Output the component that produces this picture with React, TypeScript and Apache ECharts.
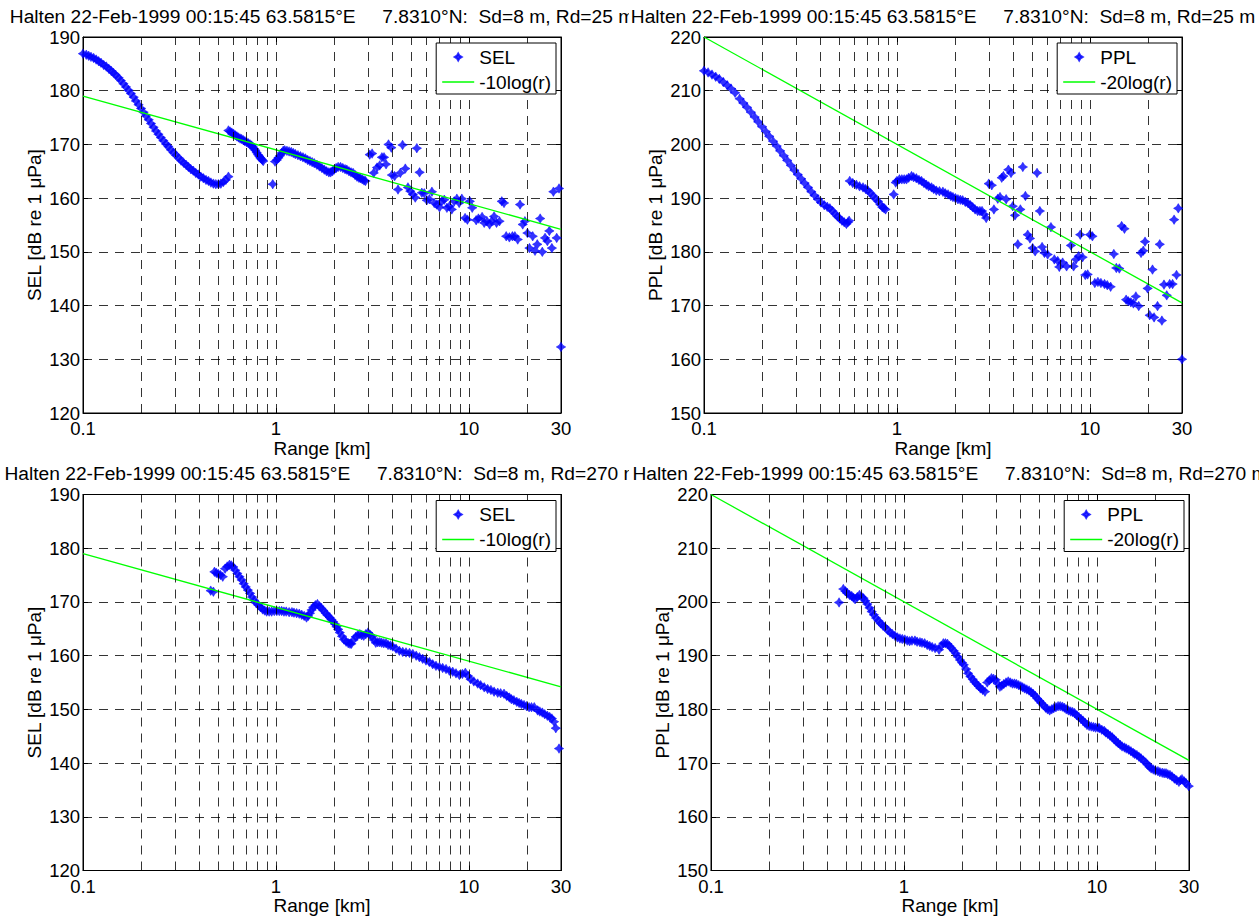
import React, { useEffect, useRef } from "react";
import * as echarts from "echarts";

const FONT = '"Liberation Sans", Arial, Helvetica, sans-serif';

// ---- text ----
const titleRd25 = "Halten 22-Feb-1999 00:15:45 63.5815°E     7.8310°N:  Sd=8 m, Rd=25 m";
const titleRd270 = "Halten 22-Feb-1999 00:15:45 63.5815°E     7.8310°N:  Sd=8 m, Rd=270 m";
const xName = "Range [km]";

// ---- axes ----
const xMin = 0.1;
const xMax = 30;
const xGridValues = [0.2, 0.3, 0.4, 0.5, 0.6, 0.7, 0.8, 0.9, 1, 2, 3, 4, 5, 6, 7, 8, 9, 10, 20];
const selRange = [120, 190];
const pplRange = [150, 220];

// ---- reference lines (end points) ----
const selRef: [number, number][] = [[0.1, 179.0], [30, 154.2]];
const pplRef: [number, number][] = [[0.1, 220.0], [30, 170.5]];

// ---- SEL, Rd = 25 m ----
const sel25: [number, number][] = [
  [0.1, 186.9], [0.104, 186.7], [0.107, 186.5], [0.11, 186.3], [0.1135, 186.1], [0.117, 185.8], [0.1205, 185.5],
  [0.124, 185.2], [0.128, 184.8], [0.132, 184.5], [0.136, 184.1], [0.14, 183.7], [0.144, 183.3], [0.148, 182.9],
  [0.153, 182.4], [0.157, 181.9], [0.162, 181.3], [0.167, 180.7], [0.172, 180.1], [0.177, 179.5], [0.183, 178.8],
  [0.188, 178.1], [0.194, 177.4], [0.2, 176.7], [0.206, 176.0], [0.212, 175.3], [0.219, 174.6], [0.225, 173.9],
  [0.232, 173.2], [0.239, 172.5], [0.246, 171.9], [0.253, 171.3], [0.261, 170.7], [0.269, 170.1], [0.277, 169.6],
  [0.285, 169.0], [0.294, 168.5], [0.303, 168.0], [0.313, 167.5], [0.322, 167.0], [0.332, 166.6], [0.342, 166.2],
  [0.352, 165.8], [0.362, 165.4], [0.373, 165.1], [0.384, 164.7], [0.396, 164.4], [0.408, 164.0], [0.421, 163.7],
  [0.434, 163.4], [0.447, 163.2], [0.46, 162.9], [0.474, 162.7], [0.488, 162.6], [0.503, 162.6], [0.518, 162.7],
  [0.534, 163.0], [0.55, 163.4], [0.567, 164.0],
  [0.567, 172.6], [0.578, 172.4], [0.59, 172.2], [0.602, 172.0], [0.615, 171.7], [0.627, 171.5], [0.64, 171.3],
  [0.652, 171.1], [0.664, 171.0], [0.677, 170.8], [0.69, 170.6], [0.705, 170.4], [0.72, 170.2], [0.734, 170.0],
  [0.748, 169.8], [0.76, 169.5], [0.77, 169.2], [0.782, 168.9], [0.794, 168.5], [0.807, 168.1], [0.82, 167.8],
  [0.83, 167.5], [0.84, 167.3], [0.85, 167.1], [0.859, 166.9],
  [0.962, 162.6],
  [0.989, 166.8], [1.01, 167.1], [1.03, 167.5], [1.05, 167.9], [1.07, 168.4], [1.09, 168.8], [1.11, 168.9],
  [1.14, 168.8], [1.17, 168.7], [1.2, 168.6], [1.23, 168.4], [1.26, 168.2], [1.3, 168.0], [1.34, 167.8],
  [1.38, 167.6], [1.42, 167.4], [1.46, 167.1], [1.5, 166.9], [1.54, 166.7], [1.58, 166.5], [1.63, 166.2],
  [1.68, 165.9], [1.73, 165.6], [1.78, 165.3], [1.83, 165.0], [1.88, 164.8], [1.92, 164.8], [1.96, 165.0],
  [2.0, 165.3], [2.05, 165.6], [2.1, 165.8], [2.16, 165.8], [2.22, 165.6], [2.28, 165.4], [2.33, 165.3],
  [2.39, 165.0], [2.45, 164.8], [2.51, 164.7], [2.57, 164.3], [2.63, 164.0], [2.69, 163.8], [2.74, 163.7],
  [2.8, 163.5], [2.86, 163.3], [2.91, 163.2],
  [3.06, 168.1], [3.15, 168.3], [3.21, 164.7], [3.34, 165.7], [3.45, 166.1], [3.54, 167.6], [3.63, 167.6],
  [3.72, 166.3], [3.83, 170.0], [3.96, 169.4], [3.99, 164.3], [4.12, 164.1], [4.29, 161.6], [4.41, 164.7],
  [4.53, 169.9], [4.68, 165.5], [4.83, 162.0], [4.97, 161.3], [5.12, 160.7], [5.27, 160.1], [5.37, 169.3],
  [5.55, 164.8], [5.7, 161.0], [5.87, 160.9], [6.05, 159.6], [6.24, 159.8], [6.43, 161.2], [6.61, 159.1],
  [6.82, 158.8], [7.04, 158.3], [7.24, 159.4], [7.45, 159.7], [7.69, 158.2], [7.93, 158.5], [8.15, 157.9],
  [8.39, 159.4], [8.66, 159.9], [8.9, 159.1], [9.19, 159.9], [9.55, 156.3], [9.82, 156.0], [10.1, 159.4],
  [10.4, 158.2], [10.9, 155.9], [11.2, 156.2], [11.7, 156.5], [12.0, 155.4], [12.4, 155.7], [12.8, 155.1],
  [13.1, 155.7], [13.5, 156.6], [13.9, 155.4], [14.4, 155.7], [14.8, 159.4], [15.2, 159.1], [15.6, 152.9],
  [16.2, 152.7], [16.8, 152.9], [17.3, 152.9], [17.9, 152.3], [18.4, 158.8], [19.0, 155.1], [19.5, 155.7],
  [20.1, 153.5], [20.6, 150.7], [21.4, 152.9], [22.0, 150.2], [22.6, 151.4], [23.4, 156.2], [24.0, 150.0],
  [24.8, 152.6], [25.5, 152.0], [26.1, 153.9], [26.9, 150.7], [27.4, 161.2], [28.5, 152.6], [29.3, 161.8],
  [30, 132.3],
];

// ---- PPL, Rd = 25 m ----
const ppl25: [number, number][] = [
  [0.1, 213.7], [0.105, 213.4], [0.11, 213.0], [0.115, 212.6], [0.12, 212.2], [0.126, 211.6], [0.132, 211.0],
  [0.138, 210.4], [0.145, 209.6], [0.153, 208.5], [0.16, 207.7], [0.167, 206.9], [0.175, 206.0], [0.183, 205.1],
  [0.191, 204.2], [0.2, 203.3], [0.209, 202.4], [0.218, 201.5], [0.228, 200.6], [0.238, 199.7], [0.248, 198.8],
  [0.259, 197.9], [0.27, 197.0], [0.282, 196.1], [0.294, 195.2], [0.306, 194.4], [0.319, 193.6], [0.332, 192.8],
  [0.346, 192.0], [0.36, 191.2], [0.374, 190.5], [0.389, 189.8], [0.404, 189.2], [0.42, 188.7], [0.435, 188.4],
  [0.449, 188.1], [0.463, 187.6], [0.477, 187.1], [0.491, 186.6], [0.505, 186.2], [0.519, 185.8], [0.533, 185.5],
  [0.547, 185.2], [0.557, 185.5], [0.565, 185.8],
  [0.569, 193.2], [0.59, 192.8], [0.616, 192.5], [0.64, 192.2], [0.667, 192.0], [0.688, 191.7], [0.708, 191.4],
  [0.73, 190.9], [0.752, 190.4], [0.775, 189.9], [0.798, 189.4], [0.82, 188.8], [0.84, 188.3], [0.857, 188.1],
  [0.873, 187.9],
  [0.962, 190.7],
  [0.985, 192.9], [1.0, 193.2], [1.03, 193.5], [1.06, 193.5], [1.09, 193.5], [1.12, 193.5], [1.15, 193.8],
  [1.19, 194.1], [1.22, 193.9], [1.26, 193.7], [1.3, 193.4], [1.34, 193.2], [1.38, 192.8], [1.42, 192.5],
  [1.46, 192.2], [1.51, 192.0], [1.55, 191.7], [1.6, 191.4], [1.66, 191.3], [1.73, 191.2], [1.78, 190.9],
  [1.84, 190.7], [1.9, 190.4], [1.95, 190.2], [2.01, 190.0], [2.07, 189.8], [2.13, 189.7], [2.19, 189.6],
  [2.26, 189.3], [2.33, 189.1], [2.4, 188.7], [2.47, 188.3], [2.54, 187.9], [2.62, 187.6], [2.69, 187.6],
  [2.76, 187.6], [2.83, 187.0], [2.9, 186.3],
  [2.99, 192.7], [3.1, 192.4], [3.18, 187.9], [3.33, 189.9], [3.42, 190.2], [3.49, 193.8], [3.56, 194.1],
  [3.68, 189.8], [3.78, 195.3], [3.9, 194.7], [3.98, 188.5], [4.09, 186.8], [4.23, 181.4], [4.36, 187.9],
  [4.49, 195.8], [4.63, 190.4], [4.76, 183.2], [4.89, 182.5], [5.05, 180.7], [5.2, 180.1], [5.32, 194.7],
  [5.5, 187.6], [5.65, 180.9], [5.81, 179.8], [6.04, 179.5], [6.28, 184.6], [6.54, 178.6], [6.81, 178.3],
  [6.94, 177.2], [7.22, 178.0], [7.57, 177.3], [7.97, 181.2], [8.23, 177.3], [8.47, 178.6], [8.74, 179.2],
  [8.91, 183.2], [9.16, 179.0], [9.46, 175.7], [9.73, 175.8], [10.0, 183.2], [10.3, 182.9], [10.6, 174.2],
  [11.0, 174.4], [11.4, 174.2], [11.9, 174.0], [12.3, 173.8], [12.8, 173.5], [13.3, 179.6], [13.7, 177.0],
  [14.2, 176.9], [14.6, 184.8], [15.1, 184.3], [15.4, 171.1], [15.8, 170.8], [16.3, 170.6], [16.8, 170.4],
  [17.3, 171.7], [17.9, 169.9], [18.4, 179.8], [18.9, 180.2], [19.3, 181.9], [19.9, 173.2], [20.4, 168.2],
  [21.1, 176.7], [21.5, 167.8], [22.4, 169.9], [23.0, 181.4], [23.6, 167.2], [24.2, 173.9], [25.0, 171.9],
  [25.9, 174.0], [26.8, 174.0], [27.3, 186.0], [28.1, 175.7], [28.7, 188.1], [30, 160.0],
];

// ---- SEL, Rd = 270 m ----
const sel270: [number, number][] = [
  [0.459, 172.1], [0.474, 171.9], [0.48, 175.6], [0.491, 175.4], [0.503, 175.2], [0.516, 175.0], [0.53, 174.7],
  [0.545, 176.2], [0.559, 176.6], [0.574, 176.9], [0.587, 176.8], [0.601, 176.5], [0.616, 175.9], [0.631, 175.3],
  [0.647, 174.7], [0.664, 174.1], [0.68, 173.4], [0.697, 172.8], [0.715, 172.2], [0.734, 171.6], [0.752, 170.9],
  [0.77, 170.3], [0.79, 169.8], [0.811, 169.4], [0.832, 169.0], [0.853, 168.6], [0.874, 168.4], [0.895, 168.2],
  [0.922, 168.2], [0.95, 168.2], [0.98, 168.3], [1.01, 168.3], [1.04, 168.3], [1.07, 168.3], [1.1, 168.2],
  [1.13, 168.2], [1.17, 168.1], [1.21, 168.1], [1.24, 168.0], [1.28, 167.9], [1.32, 167.8], [1.36, 167.6],
  [1.4, 167.4], [1.44, 167.1], [1.47, 167.4], [1.5, 167.9], [1.53, 168.5], [1.56, 169.0], [1.6, 169.4],
  [1.64, 169.6], [1.68, 169.2], [1.72, 168.8], [1.76, 168.4], [1.81, 167.9], [1.85, 167.5], [1.9, 167.1],
  [1.94, 166.7], [1.98, 166.3], [2.02, 165.9], [2.06, 165.4], [2.1, 164.9], [2.14, 164.3], [2.2, 163.6],
  [2.25, 163.0], [2.31, 162.6], [2.37, 162.3], [2.42, 162.2], [2.46, 162.2], [2.52, 162.9], [2.59, 163.5],
  [2.65, 163.8], [2.72, 164.0], [2.78, 163.8], [2.85, 163.7], [2.92, 164.0], [3.0, 164.3], [3.07, 163.9],
  [3.15, 163.5], [3.22, 162.9], [3.29, 162.4], [3.37, 162.5], [3.45, 162.5], [3.53, 162.4], [3.62, 162.3],
  [3.72, 162.3], [3.81, 162.0], [3.92, 161.9], [4.03, 161.7], [4.19, 161.3], [4.36, 160.9], [4.54, 160.7],
  [4.72, 160.6], [4.92, 160.5], [5.12, 160.3], [5.33, 160.0], [5.54, 159.7], [5.76, 159.4], [5.99, 159.1],
  [6.24, 158.8], [6.49, 158.4], [6.75, 158.1], [7.03, 157.9], [7.31, 157.7], [7.61, 157.5], [7.92, 157.2],
  [8.24, 157.0], [8.57, 156.7], [8.92, 156.4], [9.25, 156.6], [9.58, 156.8], [9.9, 156.2], [10.2, 155.6],
  [10.6, 155.2], [11.1, 154.8], [11.5, 154.5], [12.0, 154.1], [12.5, 153.8], [13.0, 153.6], [13.5, 153.3],
  [14.1, 153.1], [14.6, 153.0], [15.2, 152.9], [15.7, 152.5], [16.2, 152.2], [16.6, 151.9], [17.1, 151.7],
  [17.7, 151.4], [18.2, 151.2], [18.7, 151.0], [19.3, 150.8], [19.9, 150.6], [20.5, 150.4], [21.1, 150.4],
  [21.8, 150.4], [22.7, 149.8], [23.3, 149.6], [24.0, 149.4], [24.7, 149.1], [25.5, 148.8], [26.2, 148.6],
  [26.9, 148.3], [27.6, 147.7], [28.2, 146.5], [29.3, 142.7],
];

// ---- PPL, Rd = 270 m ----
const ppl270: [number, number][] = [
  [0.461, 199.9], [0.485, 202.4], [0.497, 202.0], [0.509, 201.6], [0.522, 201.3], [0.536, 201.1], [0.547, 200.8],
  [0.558, 200.5], [0.573, 200.9], [0.588, 201.3], [0.602, 201.0], [0.617, 200.7], [0.631, 200.2], [0.646, 199.6],
  [0.663, 198.9], [0.68, 198.2], [0.698, 197.6], [0.717, 197.0], [0.737, 196.5], [0.757, 196.0], [0.777, 195.6],
  [0.797, 195.3], [0.822, 194.8], [0.847, 194.3], [0.872, 194.0], [0.898, 193.7], [0.925, 193.4], [0.953, 193.2],
  [0.98, 193.1], [1.01, 193.0], [1.04, 192.8], [1.07, 192.7], [1.1, 192.8], [1.14, 192.8], [1.17, 192.6],
  [1.21, 192.5], [1.24, 192.4], [1.28, 192.3], [1.32, 192.0], [1.36, 191.8], [1.4, 191.6], [1.45, 191.4],
  [1.52, 191.1], [1.56, 191.8], [1.6, 192.3], [1.64, 192.3], [1.68, 192.2], [1.72, 191.8], [1.76, 191.4],
  [1.81, 190.9], [1.86, 190.4], [1.9, 189.8], [1.95, 189.2], [2.0, 188.7], [2.04, 188.3], [2.1, 187.5],
  [2.15, 186.7], [2.21, 186.1], [2.27, 185.6], [2.32, 185.1], [2.38, 184.7], [2.44, 184.3], [2.49, 183.9],
  [2.56, 183.6], [2.63, 183.3], [2.7, 185.0], [2.77, 185.4], [2.84, 185.8], [2.91, 185.7], [2.99, 185.5],
  [3.06, 184.8], [3.14, 184.2], [3.21, 184.4], [3.29, 184.7], [3.38, 185.0], [3.47, 185.2], [3.56, 185.0],
  [3.65, 184.8], [3.74, 184.8], [3.83, 184.7], [3.93, 184.5], [4.03, 184.3], [4.12, 184.1], [4.22, 183.9],
  [4.33, 183.7], [4.45, 183.5], [4.56, 183.2], [4.67, 182.9], [4.79, 182.5], [4.91, 182.0], [5.03, 181.6],
  [5.15, 181.2], [5.28, 180.8], [5.42, 180.3], [5.55, 180.0], [5.69, 179.8], [5.83, 180.0], [5.97, 180.2],
  [6.13, 180.4], [6.29, 180.6], [6.45, 180.6], [6.62, 180.5], [6.78, 180.3], [6.94, 180.0], [7.12, 179.8],
  [7.31, 179.6], [7.48, 179.5], [7.66, 179.3], [7.86, 178.9], [8.07, 178.5], [8.27, 178.2], [8.47, 177.9],
  [8.67, 177.5], [8.88, 177.1], [9.11, 176.9], [9.35, 176.8], [9.6, 176.7], [9.84, 176.6], [10.1, 176.6],
  [10.3, 176.5], [10.6, 176.2], [10.9, 176.0], [11.1, 175.7], [11.4, 175.4], [11.7, 175.1], [12.0, 174.8],
  [12.3, 174.4], [12.6, 174.0], [12.9, 173.7], [13.2, 173.4], [13.5, 173.1], [13.9, 172.9], [14.2, 172.7],
  [14.6, 172.5], [15.0, 172.2], [15.4, 171.9], [15.7, 171.7], [16.1, 171.5], [16.5, 171.2], [16.9, 170.9],
  [17.4, 170.5], [17.9, 170.1], [18.3, 169.7], [18.7, 169.3], [19.1, 169.0], [19.6, 168.8], [20.1, 168.6],
  [20.7, 168.5], [21.2, 168.3], [21.8, 168.2], [22.3, 168.1], [22.8, 168.1], [23.3, 167.9], [23.9, 167.8],
  [24.5, 167.5], [25.2, 167.1], [25.9, 166.8], [26.6, 166.5], [27.1, 166.8], [27.6, 167.0], [28.3, 166.6],
  [29.0, 166.2], [29.9, 165.7],
];

const STAR = "path://M0,-10 L3.8,-3.8 L10,0 L3.8,3.8 L0,10 L-3.8,3.8 L-10,0 L-3.8,-3.8 Z";
const LINE_ICON = "path://M0,0 L32,0 L32,1.3 L0,1.3 Z";

const W = 478;
const H = 376;

type Panel = {
  left: number; top: number; data: [number, number][]; ref: [number, number][];
  name: string; refName: string; yName: string; yRange: number[]; title: string;
};

const panels: Panel[] = [
  { left: 83, top: 37, data: sel25, ref: selRef, name: "SEL", refName: "-10log(r)", yName: "SEL [dB re 1 μPa]", yRange: selRange, title: titleRd25 },
  { left: 704, top: 37, data: ppl25, ref: pplRef, name: "PPL", refName: "-20log(r)", yName: "PPL [dB re 1 μPa]", yRange: pplRange, title: titleRd25 },
  { left: 83, top: 494.5, data: sel270, ref: selRef, name: "SEL", refName: "-10log(r)", yName: "SEL [dB re 1 μPa]", yRange: selRange, title: titleRd270 },
  { left: 711, top: 494.5, data: ppl270, ref: pplRef, name: "PPL", refName: "-20log(r)", yName: "PPL [dB re 1 μPa]", yRange: pplRange, title: titleRd270 },
];

function buildOption(): echarts.EChartsOption {
  const dash = [9, 7];
  const tickFont = { color: "#000", fontSize: 18.5, fontFamily: FONT };
  const nameFont = { color: "#000", fontSize: 19, fontFamily: FONT };
  const grid: any[] = [];
  const xAxis: any[] = [];
  const yAxis: any[] = [];
  const series: any[] = [];
  const legend: any[] = [];
  const title: any[] = [];

  panels.forEach((p, i) => {
    grid.push({ left: p.left, top: p.top, width: W, height: H, show: true, borderColor: "#000", borderWidth: 1, backgroundColor: "#fff" });
    const xBase = {
      type: "log", logBase: 10, gridIndex: i, min: xMin, max: xMax,
      axisLine: { show: true, onZero: false, lineStyle: { color: "#000", width: 1 } },
      axisTick: { show: true, inside: true, length: 5, lineStyle: { color: "#000" } },
      splitLine: { show: false },
    };
    xAxis.push({
      ...xBase, position: "bottom",
      axisLabel: { ...tickFont, margin: 6, showMinLabel: true, showMaxLabel: true, hideOverlap: false },
      name: xName, nameLocation: "middle", nameGap: 24.5, nameTextStyle: nameFont,
    });
    xAxis.push({ ...xBase, position: "top", axisLabel: { show: false } });
    const yBase = {
      type: "value", gridIndex: i, min: p.yRange[0], max: p.yRange[1], interval: 10,
      axisLine: { show: true, onZero: false, lineStyle: { color: "#000", width: 1 } },
      axisTick: { show: true, inside: true, length: 5, lineStyle: { color: "#000" } },
    };
    yAxis.push({
      ...yBase, position: "left",
      axisLabel: { ...tickFont, margin: 3 },
      splitLine: { show: true, lineStyle: { color: "#000", width: 0.8, type: dash } },
      name: p.yName, nameLocation: "middle", nameGap: 39, nameTextStyle: nameFont,
    });
    yAxis.push({ ...yBase, position: "right", axisLabel: { show: false }, splitLine: { show: false } });

    series.push({
      type: "line", xAxisIndex: 2 * i, yAxisIndex: 2 * i, data: [], silent: true, z: 1,
      markLine: {
        silent: true, symbol: ["none", "none"], label: { show: false }, animation: false,
        lineStyle: { color: "#000", width: 0.8, type: dash },
        emphasis: { disabled: true },
        data: xGridValues.map((v) => ({ xAxis: v })),
      },
    });
    series.push({
      type: "scatter", name: p.name, xAxisIndex: 2 * i, yAxisIndex: 2 * i, data: p.data,
      symbol: STAR, symbolSize: 9.5, itemStyle: { color: "#0000ff", borderColor: "#0000ff", borderWidth: 0.6 }, z: 2,
    });
    series.push({
      type: "line", name: p.refName, xAxisIndex: 2 * i, yAxisIndex: 2 * i, data: p.ref,
      symbol: "none", showSymbol: false, lineStyle: { color: "#00ff00", width: 1.3 }, itemStyle: { color: "#00ff00" }, z: 3,
    });

    legend.push({
      data: [{ name: p.name, icon: STAR }, { name: p.refName, icon: LINE_ICON }],
      orient: "vertical", right: 1259 - (p.left + W - 5), top: p.top + 6,
      itemWidth: 32, itemHeight: 7, itemGap: 6, padding: [4.5, 5, 2.5, 6], symbolKeepAspect: true,
      borderColor: "#000", borderWidth: 1, backgroundColor: "#fff",
      textStyle: { color: "#000", fontSize: 19, fontFamily: FONT },
      selectedMode: false, z: 10,
    });

    title.push({
      text: p.title, left: p.left + W / 2, top: p.top - 30.5, textAlign: "center", padding: 0,
      textStyle: { color: "#000", fontSize: 19.2, fontWeight: "normal", fontFamily: FONT },
      z: i % 2 === 0 ? 2 : 6,
    });
  });

  return {
    animation: false,
    backgroundColor: "#fff",
    textStyle: { fontFamily: FONT },
    title, grid, xAxis, yAxis, series, legend,
    graphic: [
      { type: "rect", z: 4, shape: { x: 629, y: 0, width: 8, height: 34 }, style: { fill: "#fff" } },
      { type: "rect", z: 4, shape: { x: 629, y: 455, width: 13, height: 34 }, style: { fill: "#fff" } },
    ],
  } as any;
}

export default function App() {
  const ref = useRef<HTMLDivElement>(null);
  useEffect(() => {
    if (!ref.current) return;
    const chart = echarts.init(ref.current, undefined, { renderer: "svg" });
    chart.setOption(buildOption());
    return () => chart.dispose();
  }, []);
  return <div ref={ref} style={{ position: "fixed", left: 0, top: 0, width: 1259, height: 918, background: "#fff" }} />;
}
